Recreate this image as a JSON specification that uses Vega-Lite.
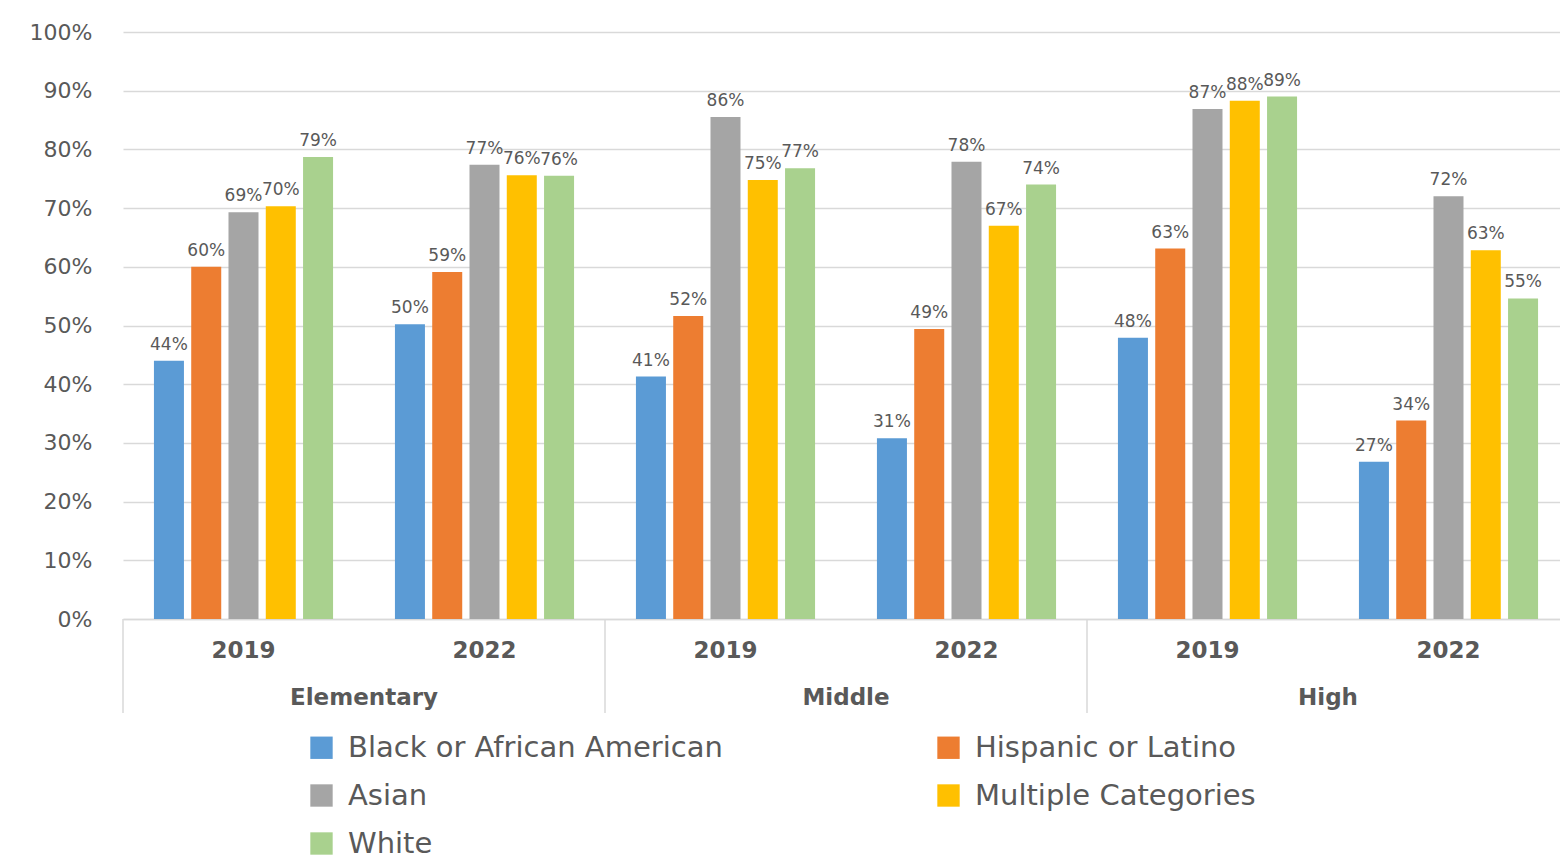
{
  "$schema": "https://vega.github.io/schema/vega-lite/v6.json",
  "autosize": "none",
  "padding": {"left": 123, "top": 32, "right": 0, "bottom": 236},
  "width": 1446,
  "height": 587,
  "background": "white",
  "data": {"values": [
    {"level": "Elementary", "year": "2019", "key": "Elementary|2019", "race": "Black or African American", "value": 0.44},
    {"level": "Elementary", "year": "2019", "key": "Elementary|2019", "race": "Hispanic or Latino", "value": 0.60},
    {"level": "Elementary", "year": "2019", "key": "Elementary|2019", "race": "Asian", "value": 0.693},
    {"level": "Elementary", "year": "2019", "key": "Elementary|2019", "race": "Multiple Categories", "value": 0.703},
    {"level": "Elementary", "year": "2019", "key": "Elementary|2019", "race": "White", "value": 0.787},
    {"level": "Elementary", "year": "2022", "key": "Elementary|2022", "race": "Black or African American", "value": 0.502},
    {"level": "Elementary", "year": "2022", "key": "Elementary|2022", "race": "Hispanic or Latino", "value": 0.591},
    {"level": "Elementary", "year": "2022", "key": "Elementary|2022", "race": "Asian", "value": 0.774},
    {"level": "Elementary", "year": "2022", "key": "Elementary|2022", "race": "Multiple Categories", "value": 0.756},
    {"level": "Elementary", "year": "2022", "key": "Elementary|2022", "race": "White", "value": 0.755},
    {"level": "Middle", "year": "2019", "key": "Middle|2019", "race": "Black or African American", "value": 0.413},
    {"level": "Middle", "year": "2019", "key": "Middle|2019", "race": "Hispanic or Latino", "value": 0.516},
    {"level": "Middle", "year": "2019", "key": "Middle|2019", "race": "Asian", "value": 0.855},
    {"level": "Middle", "year": "2019", "key": "Middle|2019", "race": "Multiple Categories", "value": 0.748},
    {"level": "Middle", "year": "2019", "key": "Middle|2019", "race": "White", "value": 0.768},
    {"level": "Middle", "year": "2022", "key": "Middle|2022", "race": "Black or African American", "value": 0.308},
    {"level": "Middle", "year": "2022", "key": "Middle|2022", "race": "Hispanic or Latino", "value": 0.494},
    {"level": "Middle", "year": "2022", "key": "Middle|2022", "race": "Asian", "value": 0.779},
    {"level": "Middle", "year": "2022", "key": "Middle|2022", "race": "Multiple Categories", "value": 0.670},
    {"level": "Middle", "year": "2022", "key": "Middle|2022", "race": "White", "value": 0.740},
    {"level": "High", "year": "2019", "key": "High|2019", "race": "Black or African American", "value": 0.479},
    {"level": "High", "year": "2019", "key": "High|2019", "race": "Hispanic or Latino", "value": 0.631},
    {"level": "High", "year": "2019", "key": "High|2019", "race": "Asian", "value": 0.869},
    {"level": "High", "year": "2019", "key": "High|2019", "race": "Multiple Categories", "value": 0.883},
    {"level": "High", "year": "2019", "key": "High|2019", "race": "White", "value": 0.890},
    {"level": "High", "year": "2022", "key": "High|2022", "race": "Black or African American", "value": 0.268},
    {"level": "High", "year": "2022", "key": "High|2022", "race": "Hispanic or Latino", "value": 0.338},
    {"level": "High", "year": "2022", "key": "High|2022", "race": "Asian", "value": 0.720},
    {"level": "High", "year": "2022", "key": "High|2022", "race": "Multiple Categories", "value": 0.628},
    {"level": "High", "year": "2022", "key": "High|2022", "race": "White", "value": 0.546}
  ]},
  "layer": [
    {
      "mark": {"type": "bar"},
      "encoding": {
        "x": {
          "field": "key", "type": "nominal",
          "sort": ["Elementary|2019", "Elementary|2022", "Middle|2019", "Middle|2022", "High|2019", "High|2022"],
          "scale": {"paddingInner": 0, "paddingOuter": 0},
          "axis": {
            "title": null, "labelAngle": 0,
            "labelExpr": "split(datum.label, '|')[1]",
            "labelFontSize": 23, "labelFontWeight": "bold",
            "labelColor": "#595959", "labelFont": "DejaVu Sans",
            "labelPadding": 20, "ticks": false, "tickSize": 0,
            "domainColor": "#D9D9D9", "domainWidth": 1.5
          }
        },
        "xOffset": {
          "field": "race", "type": "nominal",
          "sort": ["Black or African American", "Hispanic or Latino", "Asian", "Multiple Categories", "White"],
          "scale": {"paddingInner": 0.195, "paddingOuter": 0.83}
        },
        "y": {
          "field": "value", "type": "quantitative",
          "scale": {"domain": [0, 1]},
          "axis": {
            "title": null, "format": ".0%",
            "values": [0, 0.1, 0.2, 0.3, 0.4, 0.5, 0.6, 0.7, 0.8, 0.9, 1],
            "labelFontSize": 22, "labelColor": "#595959", "labelFont": "DejaVu Sans",
            "labelPadding": 31, "ticks": false, "tickSize": 0, "domain": false,
            "gridColor": "#D9D9D9", "gridWidth": 1.5
          }
        },
        "color": {
          "field": "race", "type": "nominal",
          "sort": ["Black or African American", "Hispanic or Latino", "Asian", "Multiple Categories", "White"],
          "scale": {
            "domain": ["Black or African American", "Hispanic or Latino", "Asian", "Multiple Categories", "White"],
            "range": ["#5B9BD5", "#ED7D31", "#A5A5A5", "#FFC000", "#A9D18E"]
          },
          "legend": {
            "title": null, "orient": "none", "legendX": 184, "legendY": 701,
            "columns": 2, "direction": "horizontal",
            "symbolType": "square", "symbolSize": 500, "symbolStrokeWidth": 0,
            "labelFontSize": 29, "labelFont": "DejaVu Sans", "labelColor": "#595959",
            "labelOffset": 12, "columnPadding": 211, "rowPadding": 18, "labelLimit": 800
          }
        }
      }
    },
    {
      "mark": {"type": "text", "baseline": "bottom", "dy": -7, "font": "DejaVu Sans", "fontSize": 17, "color": "#595959"},
      "encoding": {
        "x": {"field": "key", "type": "nominal", "sort": ["Elementary|2019", "Elementary|2022", "Middle|2019", "Middle|2022", "High|2019", "High|2022"]},
        "xOffset": {"field": "race", "type": "nominal", "sort": ["Black or African American", "Hispanic or Latino", "Asian", "Multiple Categories", "White"]},
        "y": {"field": "value", "type": "quantitative"},
        "text": {"field": "value", "type": "quantitative", "format": ".0%"}
      }
    },
    {
      "transform": [{"filter": "datum.race === 'Black or African American' && datum.year === '2019'"}],
      "mark": {"type": "rule", "color": "#D9D9D9", "strokeWidth": 1.5},
      "encoding": {
        "x": {"field": "key", "type": "nominal", "bandPosition": 0, "sort": ["Elementary|2019", "Elementary|2022", "Middle|2019", "Middle|2022", "High|2019", "High|2022"]},
        "y": {"datum": 0},
        "y2": {"datum": -0.16}
      }
    },
    {
      "transform": [{"filter": "datum.race === 'Black or African American' && datum.year === '2022'"}],
      "mark": {"type": "text", "baseline": "middle", "align": "center", "font": "DejaVu Sans", "fontSize": 23, "fontWeight": "bold", "color": "#595959"},
      "encoding": {
        "x": {"field": "key", "type": "nominal", "bandPosition": 0, "sort": ["Elementary|2019", "Elementary|2022", "Middle|2019", "Middle|2022", "High|2019", "High|2022"]},
        "y": {"datum": -0.1346},
        "text": {"field": "level"}
      }
    }
  ],
  "config": {
    "view": {"stroke": null},
    "font": "DejaVu Sans"
  }
}
